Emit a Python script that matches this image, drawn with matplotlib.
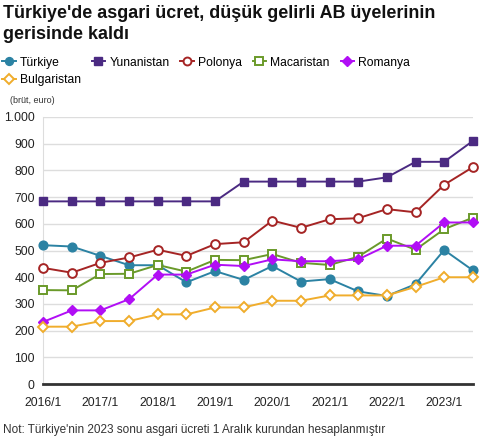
import matplotlib.pyplot as plt
from matplotlib.ticker import FuncFormatter

plt.rcParams['font.family'] = ['Liberation Sans', 'DejaVu Sans']

# semi-annual periods 2016/1 ... 2023/2
periods = ["2016/1", "2016/2", "2017/1", "2017/2", "2018/1", "2018/2", "2019/1", "2019/2",
           "2020/1", "2020/2", "2021/1", "2021/2", "2022/1", "2022/2", "2023/1", "2023/2"]
tick_labels = ["2016/1", "2017/1", "2018/1", "2019/1", "2020/1", "2021/1", "2022/1", "2023/1"]

turkiye = [520, 515, 480, 445, 445, 381, 423, 390, 442, 384, 393, 347, 330, 374, 502, 426]
yunanistan = [684, 684, 684, 684, 684, 684, 684, 758, 758, 758, 758, 758, 774, 832, 832, 910]
polonya = [435, 417, 454, 474, 503, 480, 524, 531, 612, 585, 617, 621, 655, 643, 746, 812]
macaristan = [352, 351, 412, 413, 446, 421, 465, 464, 487, 454, 446, 477, 545, 503, 580, 623]
romanya = [233, 276, 276, 318, 410, 410, 447, 442, 467, 460, 460, 467, 518, 518, 605, 605]
bulgaristan = [215, 215, 236, 236, 261, 261, 287, 287, 312, 312, 332, 332, 332, 364, 400, 400]

x = list(range(len(periods)))

fig = plt.figure(figsize=(4.8, 4.38), dpi=100)
ax = fig.add_axes([0.09, 0.123, 0.895, 0.61])

ms = 6.3
lw = 1.4
h_tr, = ax.plot(x, turkiye, "-o", color="#2b82a3", mfc="#2b82a3", mec="#2b82a3", ms=ms, lw=lw, clip_on=False, zorder=3)
h_gr, = ax.plot(x, yunanistan, "-s", color="#4b2a82", mfc="#4b2a82", mec="#4b2a82", ms=ms, lw=lw, clip_on=False, zorder=3)
h_pl, = ax.plot(x, polonya, "-o", color="#a52424", mfc="white", mec="#a52424", mew=1.4, ms=ms, lw=lw, clip_on=False, zorder=3)
h_hu, = ax.plot(x, macaristan, "-s", color="#6a9a2a", mfc="white", mec="#6a9a2a", mew=1.4, ms=ms, lw=lw, clip_on=False, zorder=3)
h_ro, = ax.plot(x, romanya, "-D", color="#b10ef5", mfc="#b10ef5", mec="#b10ef5", ms=5.6, lw=lw, clip_on=False, zorder=3)
h_bg, = ax.plot(x, bulgaristan, "-D", color="#f0ad2c", mfc="white", mec="#f0ad2c", mew=1.4, ms=5.6, lw=lw, clip_on=False, zorder=3)

ax.set_xlim(0, len(periods) - 1)
ax.set_ylim(0, 1000)
ax.set_yticks(range(0, 1001, 100))
ax.yaxis.set_major_formatter(FuncFormatter(lambda v, p: f"{int(v):,}".replace(",", ".")))
ax.set_xticks([periods.index(t) for t in tick_labels])
ax.set_xticklabels(tick_labels)
ax.grid(axis="y", color="#dddddd", lw=1)
ax.set_axisbelow(True)
for s in ["top", "right"]:
    ax.spines[s].set_visible(False)
ax.spines["left"].set_color("#dddddd")
ax.spines["bottom"].set_color("#333333")
ax.spines["bottom"].set_linewidth(2)
ax.tick_params(length=0, labelsize=8.7, colors="#222222")
ax.tick_params(axis="x", pad=9)
ax.tick_params(axis="y", pad=6)

fig.text(0.006, 0.989, "Türkiye'de asgari ücret, düşük gelirli AB üyelerinin\ngerisinde kaldı",
         fontsize=12.9, fontweight="bold", va="top", ha="left", linespacing=1.3, color="#111111")
fig.text(0.02, 0.765, "(brüt, euro)", fontsize=6.5, color="#333333")
fig.text(0.006, 0.012, "Not: Türkiye'nin 2023 sonu asgari ücreti 1 Aralık kurundan hesaplanmıştır",
         fontsize=8.5, color="#333333")

handles = [h_tr, h_bg, h_gr, h_pl, h_hu, h_ro]
names = ["Türkiye", "Bulgaristan", "Yunanistan", "Polonya", "Macaristan", "Romanya"]
fig.legend(handles, names, ncol=5, loc="upper left", bbox_to_anchor=(-0.005, 0.882),
           frameon=False, fontsize=8.7, handlelength=1.1, handletextpad=0.35,
           columnspacing=0.9, labelspacing=0.45, borderaxespad=0, markerscale=0.9)

fig.savefig("out.png", dpi=100)
